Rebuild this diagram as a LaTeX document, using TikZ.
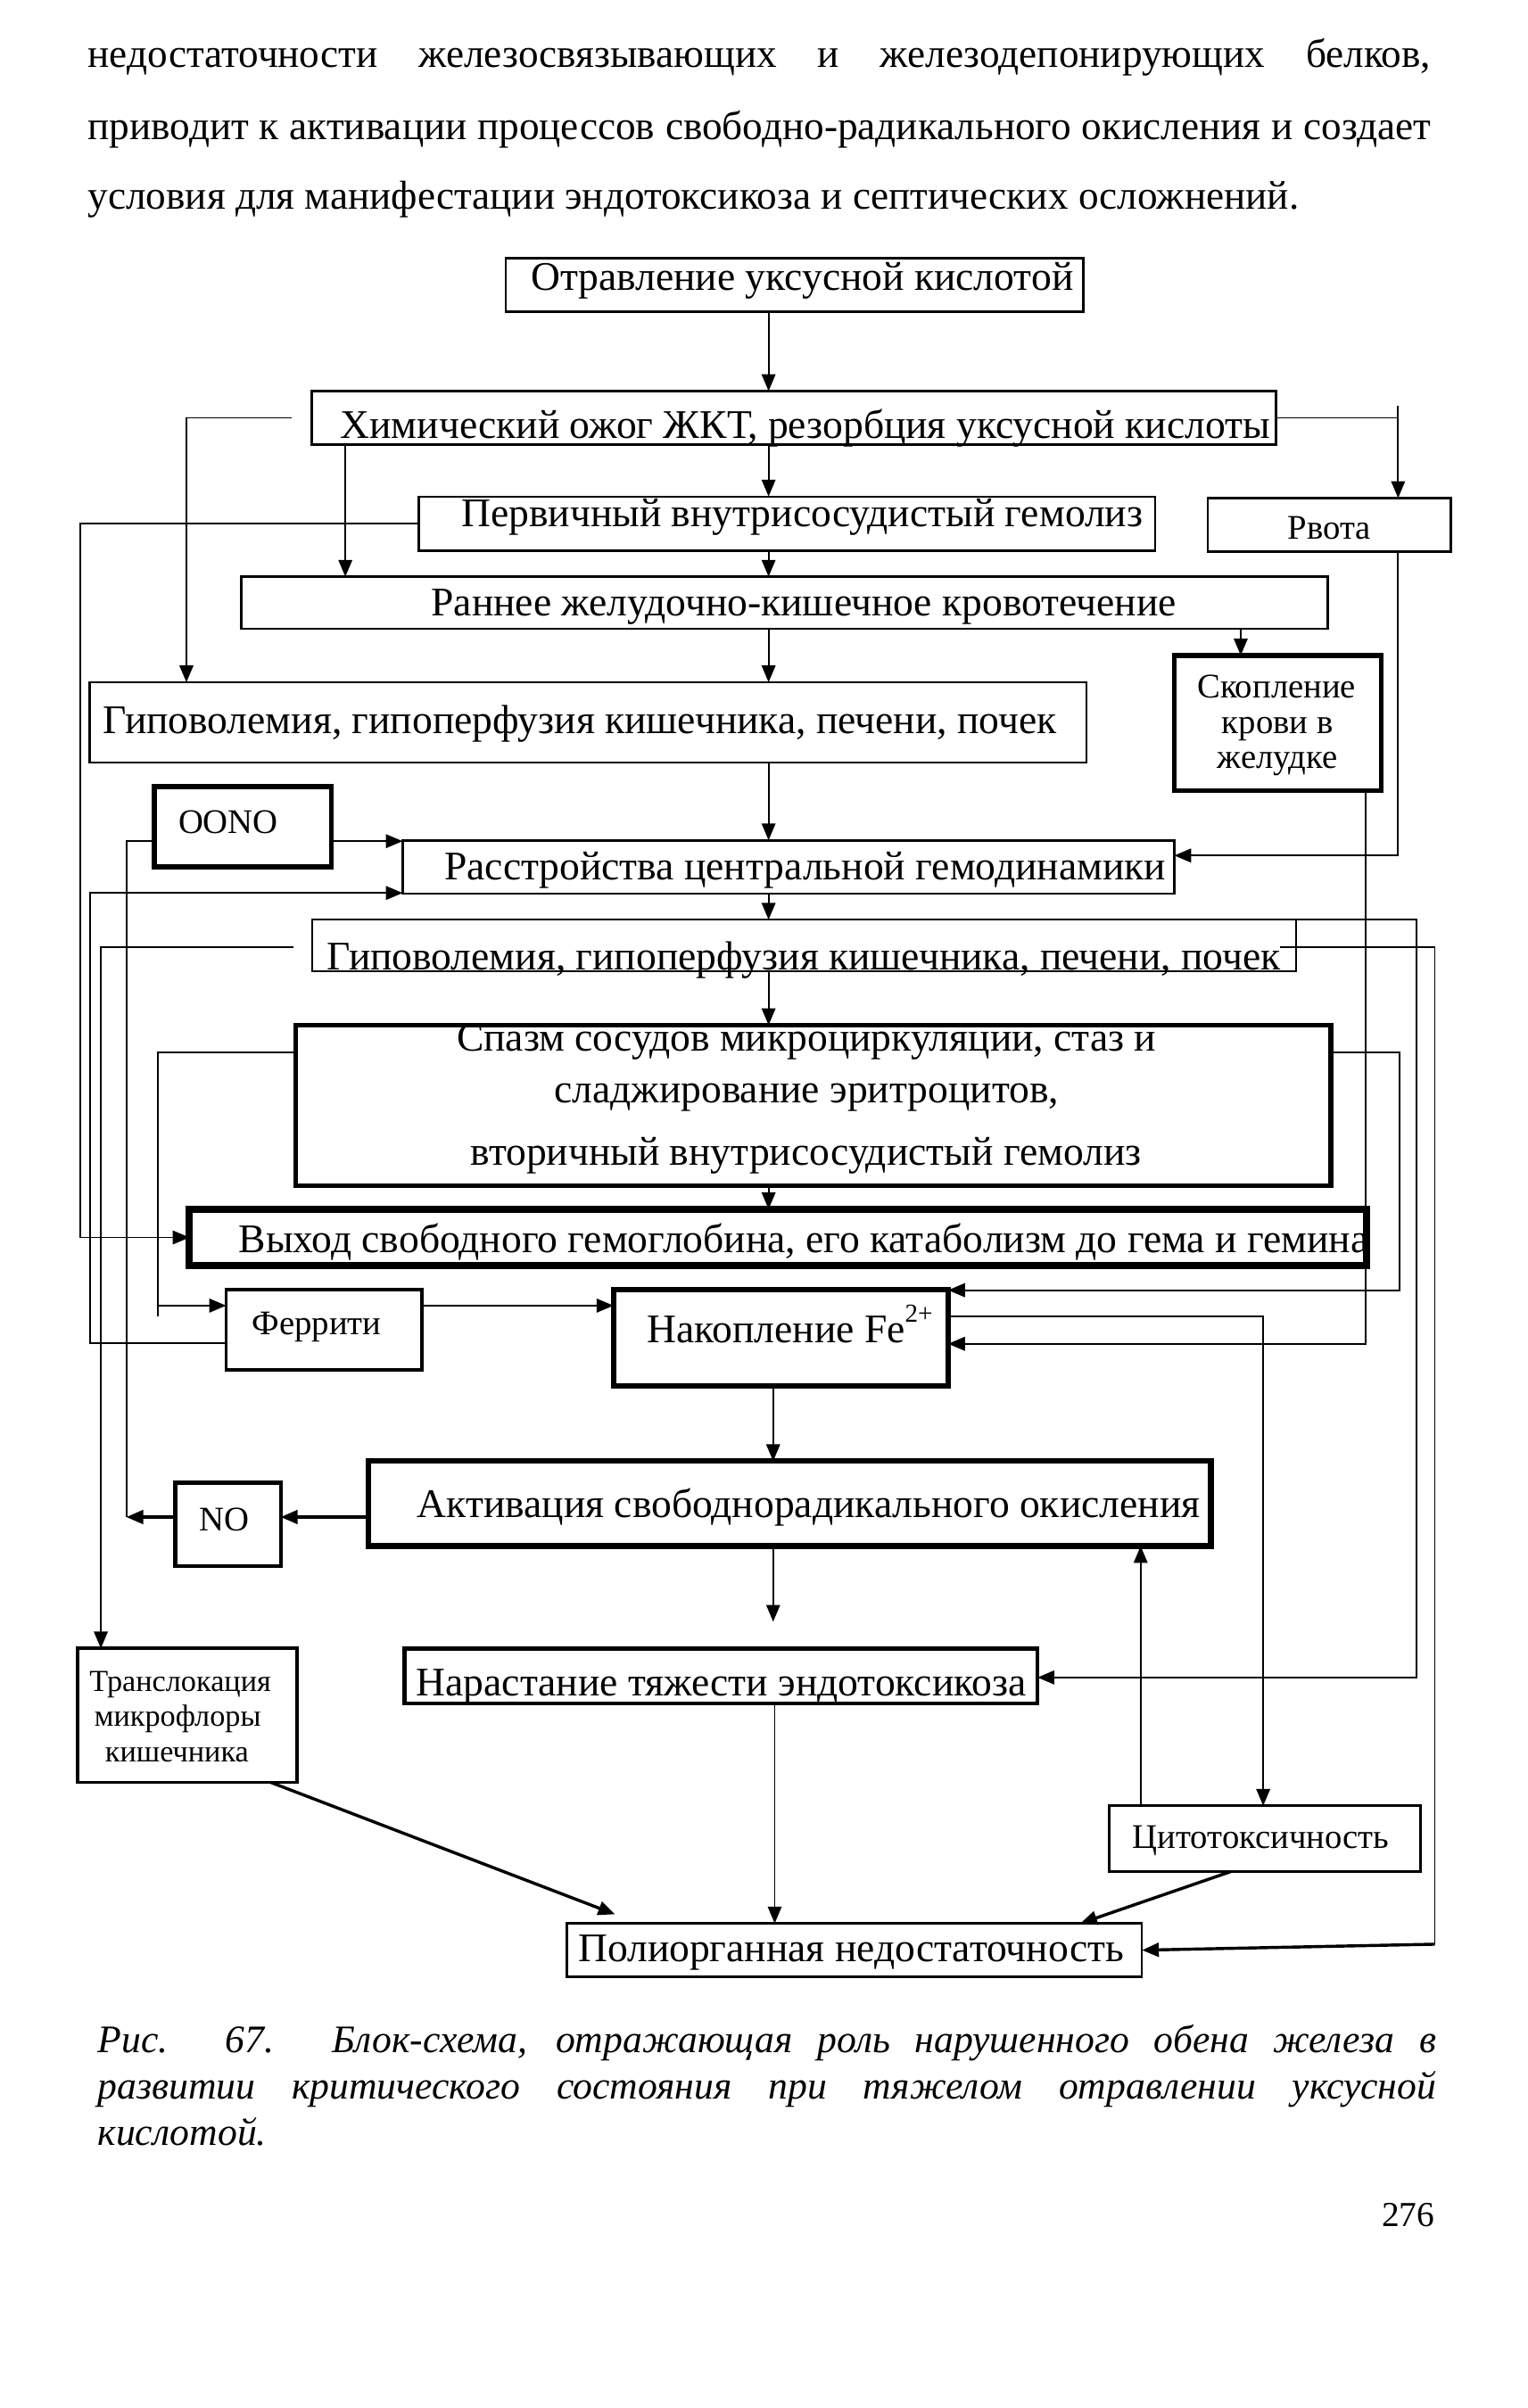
\documentclass[tikz,border=0pt]{standalone}
\usepackage{fontspec}
\setmainfont{Liberation Serif}
\usetikzlibrary{arrows.meta}
\begin{document}
\begin{tikzpicture}[x=1pt,y=-1pt,
  box/.style={draw, line width=1.4pt, inner sep=0pt, outer sep=0pt, rectangle},
  mbox/.style={box, line width=2.2pt},
  tbox/.style={box, line width=3.2pt},
  txt/.style={inner sep=0pt, anchor=base, font=\fontsize{26.6}{30}\selectfont},
  stxt/.style={txt, font=\fontsize{22.6}{26}\selectfont},
  ttxt/.style={txt, font=\fontsize{20}{23}\selectfont},
  btxt/.style={inner sep=0pt, anchor=base west, font=\fontsize{26.4}{30}\selectfont},
  ctxt/.style={inner sep=0pt, anchor=base west, font=\fontsize{25.5}{29}\selectfont\itshape},
  con/.style={line width=1.1pt},
  arr/.style={con, -{Triangle[length=11pt,width=9pt]}},
  tarr/.style={arr, line width=2pt},
]
\useasboundingbox (0,0) rectangle (1000,1576.2);

% ---------- page text ----------
\node[btxt] (p1) at (57.4,43.8) {\makebox[878.8pt][s]{недостаточности железосвязывающих и железодепонирующих белков,}};
\node[btxt] (p2) at (57.4,91.4) {\makebox[878.8pt][s]{приводит к активации процессов свободно-радикального окисления и создает}};
\node[btxt] (p3) at (57.4,137) {условия для манифестации эндотоксикоза и септических осложнений.};

% ---------- boxes ----------
\node[box, minimum width=378pt, minimum height=35pt] (b1) at (520,186.5) {};
\node[box, minimum width=631pt, minimum height=35pt] (b2) at (519.5,273.5) {};
\node[box, minimum width=482pt, minimum height=35.5pt] (b3) at (515,342.75) {};
\node[box, minimum width=159pt, minimum height=35pt] (rv) at (870,343.5) {};
\node[box, minimum width=711pt, minimum height=34pt] (b4) at (513.5,394.5) {};
\node[box, minimum width=652.3pt, minimum height=52.4pt] (b5) at (384.85,472.8) {};
\node[tbox, minimum width=135.5pt, minimum height=88.6pt] (sk) at (836.25,473.3) {};
\node[tbox, minimum width=116pt, minimum height=52.5pt] (oo) at (159,541.25) {};
\node[box, line width=1.6pt, minimum width=505pt, minimum height=35pt] (b6) at (516,567.5) {};
\node[box, line width=1.2pt, minimum width=643.5pt, minimum height=34pt] (b7) at (526.25,619) {};
\node[tbox, minimum width=677.5pt, minimum height=105pt] (b8) at (532.25,723.5) {};
\node[box, line width=4.6pt, minimum width=770.5pt, minimum height=37pt] (b9) at (509.25,810) {};
\node[mbox, minimum width=128pt, minimum height=52.7pt] (fe) at (212,870.35) {};
\node[box, line width=3.6pt, minimum width=219pt, minimum height=63pt] (b10) at (511,875.5) {};
\node[box, line width=3.6pt, minimum width=551.5pt, minimum height=55.6pt] (b11) at (516.75,984.2) {};
\node[box, line width=2.6pt, minimum width=69pt, minimum height=54.4pt] (no) at (149.25,997.8) {};
\node[box, line width=2.6pt, minimum width=414.3pt, minimum height=36pt] (b12) at (471.85,1097) {};
\node[mbox, minimum width=143.5pt, minimum height=87.6pt] (tr) at (122.75,1122.8) {};
\node[box, line width=1.8pt, minimum width=204pt, minimum height=43pt] (ct) at (827.8,1203.5) {};
\node[box, minimum width=376.4pt, minimum height=35pt] (b13) at (559.2,1276.5) {};

% ---------- helper coordinates ----------
\coordinate (cx) at (503,0);
\coordinate (cy) at (506,0);
\coordinate (cz) at (507,0);
\coordinate (L0) at (52.5,0);
\coordinate (L1) at (122,0);
\coordinate (L2) at (226,0);
\coordinate (L3) at (82.7,0);
\coordinate (L4) at (59,0);
\coordinate (L5) at (66,0);
\coordinate (L6) at (103.5,0);
\coordinate (L7) at (177,0);
\coordinate (R0) at (812,0);
\coordinate (R1) at (915,0);
\coordinate (R2) at (894,0);
\coordinate (R3) at (916,0);
\coordinate (R4) at (927,0);
\coordinate (R5) at (939,0);
\coordinate (R6) at (826.7,0);
\coordinate (R7) at (746.5,0);
\coordinate (R8) at (805.7,0);
\coordinate (pA) at (707,0);
\coordinate (pB) at (402.5,1253);
\coordinate (rvtop) at (915,265.6);
\coordinate (rvj) at (915,560);
\coordinate (oy) at (0,550.6);
\coordinate (ry2) at (0,584.5);
\coordinate (gy) at (0,619.8);
\coordinate (sy) at (0,688.7);
\coordinate (ny2) at (0,844.5);
\coordinate (fy1) at (0,854.6);
\coordinate (sbot) at (103.5,861.4);
\coordinate (cyy) at (0,861.7);
\coordinate (fy2) at (0,879);
\coordinate (ky) at (0,879.6);
\coordinate (ny) at (0,993);
\coordinate (gapend) at (506,1061.5);
\coordinate (ey) at (0,1098);
\coordinate (py) at (0,1272.6);

% ---------- main column ----------
\draw[arr] (b1.south -| cx) -- (b2.north -| cx);
\draw[arr] (b2.south -| cx) -- (b3.north -| cx);
\draw[arr] (b3.south -| cx) -- (b4.north -| cx);
\draw[arr] (b4.south -| cx) -- (b5.north -| cx);
\draw[arr] (b5.south -| cx) -- (b6.north -| cx);
\draw[arr] (b6.south -| cx) -- (b7.north -| cx);
\draw[arr] (b7.south -| cx) -- (b8.north -| cx);
\draw[arr] (b8.south -| cx) -- (b9.north -| cx);
\draw[arr] (b10.south -| cy) -- (b11.north -| cy);
\draw[arr] (b11.south -| cy) -- (gapend);
\draw[arr] (b12.south -| cz) -- (b13.north -| cz);

% ---------- top branches ----------
\draw[arr, shorten <=13pt] (b2.west) -- (L1 |- b2.west) -- (b5.north -| L1);
\draw[arr] (b2.south -| L2) -- (b4.north -| L2);
\draw[con] (b2.east) -- (b2.east -| R1);
\draw[arr] (rvtop) -- (rv.north -| R1);
\draw[arr] (rv.south -| R1) -- (rvj) -- (rvj -| b6.east);
\draw[arr] (b4.south -| R0) -- (sk.north -| R0);
\draw[arr] (b3.west) -- (L0 |- b3.west) -- (L0 |- b9.west) -- (b9.west);

% ---------- OONO / NO ----------
\draw[arr] (oo.east |- oy) -- (b6.west |- oy);
\draw[con] (oo.west |- oy) -- (L3 |- oy) -- (L3 |- ny);
\draw[arr, line width=1.8pt] (no.west |- ny) -- (L3 |- ny);
\draw[arr, line width=1.8pt] (b11.west |- ny) -- (no.east |- ny);

% ---------- left loops ----------
\draw[arr] (fe.west |- fy2) -- (L4 |- fy2) -- (L4 |- ry2) -- (b6.west |- ry2);
\draw[arr, shorten <=12.5pt] (b7.west |- gy) -- (L5 |- gy) -- (tr.north -| L5);
\draw[con] (b8.west |- sy) -- (L6 |- sy) -- (sbot);
\draw[arr] (L6 |- fy1) -- (fe.west |- fy1);
\draw[arr] (fe.east |- fy1) -- (b10.west |- fy1);

% ---------- right loops ----------
\draw[arr] (sk.south -| R2) -- (R2 |- ky) -- (b10.east |- ky);
\draw[arr] (b8.east |- sy) -- (R3 |- sy) -- (R3 |- ny2) -- (b10.east |- ny2);
\draw[arr] (b7.north east) -- (R4 |- b7.north east) -- (R4 |- ey) -- (b12.east |- ey);
\draw[con, shorten <=-10pt] (b7.east |- gy) -- (R5 |- gy) -- (R5 |- py);
\draw[tarr] (R5 |- py) -- (b13.east);
\draw[arr] (b10.east |- cyy) -- (R6 |- cyy) -- (ct.north -| R6);
\draw[arr] (ct.north -| R7) -- (b11.south -| R7);

% ---------- to final box ----------
\draw[tarr] (ct.south -| R8) -- (b13.north -| pA);
\draw[tarr] (tr.south -| L7) -- (pB);

% ---------- texts ----------
\node[txt] (t1) at (525,190) {Отравление уксусной кислотой};
\node[txt] (t2) at (527,287) {Химический ожог ЖКТ, резорбция уксусной кислоты};
\node[txt] (t3) at (525,345) {Первичный внутрисосудистый гемолиз};
\node[stxt] (trv) at (870,353) {Рвота};
\node[txt] (t4) at (526,403) {Раннее желудочно-кишечное кровотечение};
\node[txt] (t5) at (379.5,480) {Гиповолемия, гипоперфузия кишечника, печени, почек};
\node[stxt] (tsk1) at (835.5,457) {Скопление};
\node[stxt] (tsk2) at (836,480) {крови в};
\node[stxt] (tsk3) at (836,503) {желудке};
\node[stxt] (too) at (149.4,545.6) {OONO};
\node[txt] (t6) at (527,576) {Расстройства центральной гемодинамики};
\node[txt] (t7) at (526,635) {Гиповолемия, гипоперфузия кишечника, печени, почек};
\node[txt] (t8a) at (527.8,688) {Спазм сосудов микроциркуляции, стаз и};
\node[txt] (t8b) at (527.8,722) {сладжирование эритроцитов,};
\node[txt] (t8c) at (527.5,762.8) {вторичный внутрисосудистый гемолиз};
\node[txt] (t9) at (526,820) {Выход свободного гемоглобина, его катаболизм до гема и гемина};
\node[stxt] (tfe) at (207.2,873.7) {Феррити};
\node[txt] (t10) at (517,878.6) {Накопление Fe\raisebox{0.5em}{\fontsize{17}{17}\selectfont 2+}};
\node[txt] (t11) at (529.3,993.4) {Активация свободнорадикального окисления};
\node[stxt] (tno) at (146.6,1002) {NO};
\node[txt] (t12) at (472,1110) {Нарастание тяжести эндотоксикоза};
\node[ttxt] (ttr1) at (118,1107) {Транслокация};
\node[ttxt] (ttr2) at (116.3,1129.6) {микрофлоры};
\node[ttxt] (ttr3) at (115.8,1153) {кишечника};
\node[stxt] (tct) at (825.3,1210) {Цитотоксичность};
\node[txt] (t13) at (557,1284) {Полиорганная недостаточность};

% ---------- caption ----------
\node[ctxt] (c1) at (63.8,1343.7) {\makebox[876pt][s]{Рис. 67. Блок-схема, отражающая роль нарушенного обена железа в}};
\node[ctxt] (c2) at (63.8,1373.8) {\makebox[876pt][s]{развитии критического состояния при тяжелом отравлении уксусной}};
\node[ctxt] (c3) at (63.8,1404.5) {кислотой.};
\node[inner sep=0pt, anchor=base east, font=\fontsize{23}{26}\selectfont] (pg) at (939,1457.5) {276};
\end{tikzpicture}
\end{document}
